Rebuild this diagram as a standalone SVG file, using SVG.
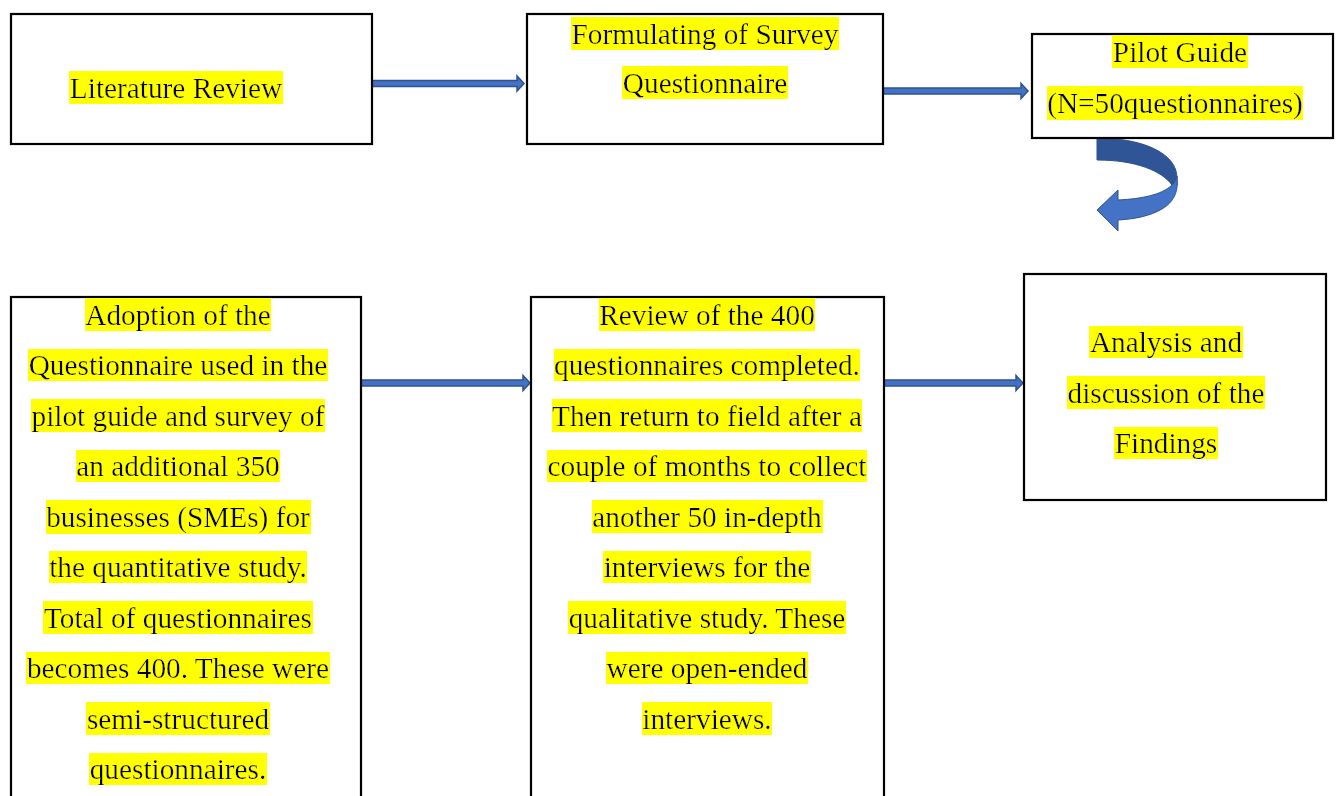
<svg xmlns="http://www.w3.org/2000/svg" width="1339" height="796" viewBox="0 0 1339 796">
<defs>
<style>
.box{fill:#fff;stroke:#000;stroke-width:2.2}
.t{font-family:"Liberation Serif","Times New Roman",serif;font-size:29.3px;fill:#000;text-anchor:middle;filter:url(#hl)}
.arr{fill:#4472C4;stroke:#2F528F;stroke-width:1.5;stroke-linejoin:miter}
</style>
<filter id="hl" x="0" y="0" width="1" height="1">
<feFlood flood-color="#FFFF00"/>
<feComposite in="SourceGraphic" operator="over"/>
</filter>
</defs>
<rect width="1339" height="796" fill="#fff"/>

<g id="connectors">
<path class="arr" d="M372,80.5 H517 V76 L524,83.5 L517,91 V86.5 H372 Z"/>
<path class="arr" d="M883,88 H1021 V83.5 L1028,91 L1021,98.5 V94 H883 Z"/>
<path class="arr" d="M361,380 H523 V375.5 L530,383 L523,390.5 V386 H361 Z"/>
<path class="arr" d="M880,380 H1016 V375.5 L1023,383 L1016,390.5 V386 H880 Z"/>
<g id="curved-arrow">
<path d="M1097,138 C1140,138 1177,152 1177,178 L1177,185 L1172,185 C1162,171 1136,160 1097,160 Z" fill="#2F5597" stroke="#2F528F" stroke-width="1"/>
<path d="M1177,176 C1178,188 1177,200 1162,209 C1150,216 1135,219 1118,220 L1118,231 L1097,210 L1118,190 L1118,200 C1140,199 1162,195 1172,185 C1175,182 1176,179 1177,176 Z" fill="#4472C4" stroke="#2F528F" stroke-width="1"/>
</g>
</g>

<g id="node-literature">
<rect class="box" x="11" y="14" width="361" height="130"/>
<text class="t" x="176" y="97.5">Literature Review</text>
</g>

<g id="node-formulating">
<rect class="box" x="527" y="14" width="356" height="130"/>
<text class="t" x="705" y="43.5">Formulating of Survey</text>
<text class="t" x="705" y="92.5">Questionnaire</text>
</g>

<g id="node-pilot">
<rect class="box" x="1032" y="34" width="301" height="104"/>
<text class="t" x="1180" y="61.5">Pilot Guide</text>
<text class="t" x="1175" y="112.5">(N=50questionnaires)</text>
</g>

<g id="node-adoption">
<rect class="box" x="11" y="297" width="350" height="510"/>
<text class="t" x="178" y="324.5">Adoption of the</text>
<text class="t" x="178" y="375">Questionnaire used in the</text>
<text class="t" x="178" y="425.5">pilot guide and survey of</text>
<text class="t" x="178" y="476">an additional 350</text>
<text class="t" x="178" y="526.5">businesses (SMEs) for</text>
<text class="t" x="178" y="577">the quantitative study.</text>
<text class="t" x="178" y="627.5">Total of questionnaires</text>
<text class="t" x="178" y="678">becomes 400. These were</text>
<text class="t" x="178" y="728.5">semi-structured</text>
<text class="t" x="178" y="779">questionnaires.</text>
</g>

<g id="node-review">
<rect class="box" x="531" y="297" width="353" height="510"/>
<text class="t" x="707" y="324.5">Review of the 400</text>
<text class="t" x="707" y="375">questionnaires completed.</text>
<text class="t" x="707" y="425.5">Then return to field after a</text>
<text class="t" x="707" y="476">couple of months to collect</text>
<text class="t" x="707" y="526.5">another 50 in-depth</text>
<text class="t" x="707" y="577">interviews for the</text>
<text class="t" x="707" y="627.5">qualitative study. These</text>
<text class="t" x="707" y="678">were open-ended</text>
<text class="t" x="707" y="728.5">interviews.</text>
</g>

<g id="node-analysis">
<rect class="box" x="1024" y="274" width="302" height="226"/>
<text class="t" x="1166" y="352">Analysis and</text>
<text class="t" x="1166" y="402.5">discussion of the</text>
<text class="t" x="1166" y="453">Findings</text>
</g>
</svg>
